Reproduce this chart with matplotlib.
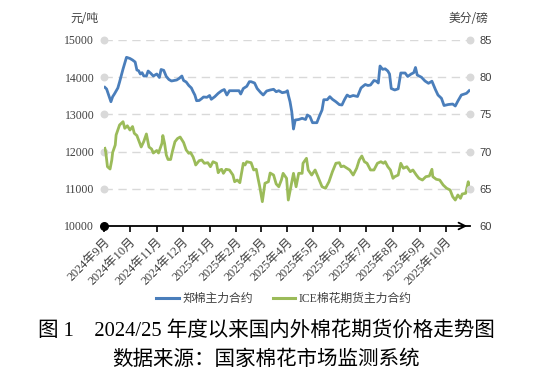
import matplotlib
matplotlib.use("Agg")
import matplotlib.pyplot as plt
import pandas as pd
from matplotlib.lines import Line2D

plt.rcParams['font.family'] = ['Liberation Serif', 'Noto Sans CJK SC', 'DejaVu Sans']

# ---------------- data ----------------
zheng_dates = [
    "2024-09-02", "2024-09-04", "2024-09-09", "2024-09-11", "2024-09-13", "2024-09-17", "2024-09-19",
    "2024-09-23", "2024-09-25", "2024-09-27", "2024-10-01", "2024-10-04", "2024-10-07", "2024-10-09",
    "2024-10-11", "2024-10-13", "2024-10-15", "2024-10-17", "2024-10-20", "2024-10-22", "2024-10-25",
    "2024-10-28", "2024-11-01", "2024-11-04", "2024-11-06", "2024-11-09", "2024-11-12", "2024-11-15",
    "2024-11-18", "2024-11-21", "2024-11-24", "2024-11-27", "2024-11-30", "2024-12-02", "2024-12-05",
    "2024-12-08", "2024-12-11", "2024-12-13", "2024-12-15", "2024-12-17", "2024-12-20", "2024-12-23",
    "2024-12-25", "2024-12-29", "2025-01-01", "2025-01-03", "2025-01-07", "2025-01-11", "2025-01-15",
    "2025-01-18", "2025-01-21", "2025-01-24", "2025-01-27", "2025-01-30", "2025-02-04", "2025-02-06",
    "2025-02-09", "2025-02-13", "2025-02-16", "2025-02-18", "2025-02-22", "2025-02-25", "2025-03-01",
    "2025-03-04", "2025-03-08", "2025-03-12", "2025-03-16", "2025-03-19", "2025-03-22", "2025-03-26",
    "2025-03-30", "2025-04-01", "2025-04-02", "2025-04-04", "2025-04-06", "2025-04-08", "2025-04-10",
    "2025-04-14", "2025-04-18", "2025-04-22", "2025-04-24", "2025-04-27", "2025-04-30", "2025-05-05",
    "2025-05-08", "2025-05-11", "2025-05-13", "2025-05-17", "2025-05-20", "2025-05-23", "2025-05-27",
    "2025-05-31", "2025-06-03", "2025-06-06", "2025-06-09", "2025-06-12", "2025-06-16", "2025-06-21",
    "2025-06-25", "2025-06-28", "2025-06-30", "2025-07-03", "2025-07-06", "2025-07-10", "2025-07-13",
    "2025-07-15", "2025-07-17", "2025-07-20", "2025-07-23", "2025-07-26", "2025-07-28", "2025-07-30",
    "2025-08-03", "2025-08-07", "2025-08-10", "2025-08-15", "2025-08-18", "2025-08-22", "2025-08-25",
    "2025-08-27", "2025-08-29", "2025-09-03", "2025-09-07", "2025-09-11", "2025-09-15", "2025-09-19",
    "2025-09-22", "2025-09-26", "2025-09-29", "2025-10-04", "2025-10-09", "2025-10-12", "2025-10-15",
    "2025-10-19", "2025-10-25", "2025-10-28",
]
zheng_values = [
    13728, 13683, 13341, 13476, 13548, 13710, 13871,
    14220, 14373, 14535, 14503, 14462, 14408, 14193,
    14175, 14086, 14121, 14032, 14032, 14166, 14105,
    14032, 14086, 13992, 14207, 14185, 14019, 13938,
    13898, 13911, 13925, 13970, 14032, 13911, 13871,
    13777, 13710, 13610, 13521, 13368, 13374, 13427,
    13468, 13460, 13508, 13406, 13476, 13567, 13637,
    13669, 13521, 13637, 13637, 13637, 13637, 13548,
    13696, 13755, 13879, 13879, 13844, 13696, 13589,
    13521, 13629, 13656, 13675, 13610, 13637, 13583,
    13602, 13637, 13521, 13341, 13072, 12607, 12849,
    12863, 12895, 12863, 12984, 12943, 12777, 12777,
    12957, 13118, 13395, 13395, 13476, 13406, 13341,
    13263, 13253, 13400, 13521, 13476, 13508, 13481,
    13710, 13769, 13804, 13777, 13790, 13911, 13892,
    13844, 14301, 14212, 14225, 14166, 14086, 13696,
    13656, 13688, 14113, 14113, 14019, 14086, 14121,
    14261, 14059, 13997, 13898, 13836, 13892, 13669,
    13521, 13433, 13239, 13266, 13279, 13226, 13360,
    13521, 13567, 13637,
]

ice_dates = [
    "2024-09-02", "2024-09-03", "2024-09-05", "2024-09-08", "2024-09-10", "2024-09-11", "2024-09-14",
    "2024-09-15", "2024-09-17", "2024-09-19", "2024-09-23", "2024-09-25", "2024-09-28", "2024-10-01",
    "2024-10-04", "2024-10-06", "2024-10-09", "2024-10-11", "2024-10-14", "2024-10-17", "2024-10-20",
    "2024-10-23", "2024-10-26", "2024-10-28", "2024-11-01", "2024-11-03", "2024-11-07", "2024-11-08",
    "2024-11-10", "2024-11-12", "2024-11-14", "2024-11-17", "2024-11-19", "2024-11-22", "2024-11-25",
    "2024-11-28", "2024-12-02", "2024-12-05", "2024-12-08", "2024-12-10", "2024-12-13", "2024-12-15",
    "2024-12-16", "2024-12-20", "2024-12-23", "2024-12-26", "2024-12-30", "2025-01-02", "2025-01-05",
    "2025-01-09", "2025-01-11", "2025-01-13", "2025-01-15", "2025-01-17", "2025-01-20", "2025-01-24",
    "2025-01-28", "2025-01-30", "2025-02-02", "2025-02-05", "2025-02-09", "2025-02-11", "2025-02-13",
    "2025-02-18", "2025-02-21", "2025-02-24", "2025-02-26", "2025-02-28", "2025-03-03", "2025-03-06",
    "2025-03-10", "2025-03-12", "2025-03-16", "2025-03-19", "2025-03-22", "2025-03-25", "2025-03-27",
    "2025-03-31", "2025-04-02", "2025-04-05", "2025-04-08", "2025-04-11", "2025-04-14", "2025-04-18",
    "2025-04-19", "2025-04-23", "2025-04-25", "2025-04-29", "2025-05-03", "2025-05-07", "2025-05-11",
    "2025-05-15", "2025-05-19", "2025-05-23", "2025-05-27", "2025-05-31", "2025-06-02", "2025-06-05",
    "2025-06-09", "2025-06-12", "2025-06-16", "2025-06-20", "2025-06-23", "2025-06-26", "2025-06-29",
    "2025-07-02", "2025-07-06", "2025-07-10", "2025-07-14", "2025-07-18", "2025-07-21", "2025-07-23",
    "2025-07-26", "2025-07-29", "2025-08-01", "2025-08-03", "2025-08-07", "2025-08-10", "2025-08-13",
    "2025-08-17", "2025-08-21", "2025-08-24", "2025-08-28", "2025-08-31", "2025-09-04", "2025-09-08",
    "2025-09-12", "2025-09-15", "2025-09-16", "2025-09-20", "2025-09-24", "2025-09-28", "2025-10-02",
    "2025-10-06", "2025-10-09", "2025-10-12", "2025-10-15", "2025-10-18", "2025-10-20", "2025-10-24",
    "2025-10-27", "2025-10-28",
]
ice_values = [
    70.44, 69.95, 67.97, 67.66, 68.87, 69.88, 70.89,
    72.23, 72.90, 73.58, 74.02, 73.13, 73.47, 72.90,
    73.37, 72.46, 72.16, 71.56, 70.62, 71.36, 72.37,
    70.62, 70.35, 69.81, 70.15, 69.81, 71.12, 72.16,
    71.12, 69.54, 68.94, 68.94, 69.99, 71.33, 71.76,
    71.96, 71.22, 70.22, 69.77, 69.88, 69.27, 68.60,
    68.20, 68.78, 68.87, 68.43, 68.51, 67.97, 68.64,
    68.43, 67.16, 67.53, 67.62, 67.08, 67.62, 67.53,
    66.85, 65.95, 66.18, 65.82, 68.43, 68.20, 68.64,
    68.51, 67.53, 67.62, 66.41, 65.28, 63.27, 65.74,
    65.95, 67.12, 66.85, 65.65, 65.28, 66.18, 67.08,
    66.41, 63.49, 65.28, 67.08, 65.28, 67.08, 67.08,
    68.43, 69.10, 67.53, 66.85, 67.53, 66.41, 65.28,
    65.07, 65.95, 67.30, 68.43, 68.51, 67.97, 68.06,
    67.76, 67.53, 66.85, 67.76, 68.87, 69.41, 68.64,
    68.43, 67.53, 67.53, 68.43, 68.64, 68.43, 68.64,
    67.97, 67.53, 66.41, 66.63, 66.85, 68.43, 67.76,
    67.97, 67.30, 67.53, 66.85, 66.41, 66.18, 66.63,
    66.72, 67.62, 66.63, 66.28, 66.18, 65.51, 65.07,
    64.84, 63.94, 63.49, 64.17, 63.72, 64.30, 64.40,
    65.95, 65.07,
]

month_ticks = ["2024-09-01", "2024-10-01", "2024-11-01", "2024-12-01", "2025-01-01", "2025-02-01",
               "2025-03-01", "2025-04-01", "2025-05-01", "2025-06-01", "2025-07-01", "2025-08-01",
               "2025-09-01", "2025-10-01"]
month_labels = ["2024年9月", "2024年10月", "2024年11月", "2024年12月", "2025年1月", "2025年2月",
                "2025年3月", "2025年4月", "2025年5月", "2025年6月", "2025年7月", "2025年8月",
                "2025年9月", "2025年10月"]
left_ticks = [10000, 11000, 12000, 13000, 14000, 15000]
right_ticks = [60, 65, 70, 75, 80, 85]

series_names = ["郑棉主力合约", "ICE棉花期货主力合约"]
left_unit = "元/吨"
right_unit = "美分/磅"
caption1 = "图 1    2024/25 年度以来国内外棉花期货价格走势图"
caption2 = "数据来源：国家棉花市场监测系统"

# ---------------- drawing ----------------
BLUE = "#4A7EBB"
GREEN = "#9BBB59"
GRID = "#D9D9D9"
TXT = "#404040"

W, H = 549, 371
fig = plt.figure(figsize=(W / 100, H / 100), dpi=100)
x0, x1, ytop, ybot = 104, 470, 40, 226
ax = fig.add_axes([x0 / W, 1 - ybot / H, (x1 - x0) / W, (ybot - ytop) / H])
ax2 = ax.twinx()

zd = pd.to_datetime(zheng_dates)
idt = pd.to_datetime(ice_dates)
xmin = pd.Timestamp("2024-09-01")
xmax = pd.Timestamp("2025-10-29")

for t in left_ticks[1:]:
    ax.axhline(t, color=GRID, lw=1.0, ls=(0, (6, 4)), zorder=0)

ax2.plot(idt, ice_values, color=GREEN, lw=2.0, solid_joinstyle='round', zorder=3)
ax.plot(zd, zheng_values, color=BLUE, lw=2.0, solid_joinstyle='round', zorder=3)

ax.set_xlim(xmin, xmax)
ax2.set_xlim(xmin, xmax)
ax.set_ylim(10000, 15000)
ax2.set_ylim(60, 85)

for a in (ax, ax2):
    for s in ("left", "right", "top"):
        a.spines[s].set_visible(False)
ax2.spines["bottom"].set_visible(False)
ax.spines["bottom"].set_color("black")
ax.spines["bottom"].set_linewidth(1.3)

# y ticks with dot markers
ax.set_yticks(left_ticks)
ax.set_yticklabels([str(v) for v in left_ticks], fontsize=8.5, color=TXT, family=['Liberation Serif'])
ax.tick_params(axis='y', length=0, pad=7)
ax2.set_yticks(right_ticks)
ax2.set_yticklabels([str(v) for v in right_ticks], fontsize=8, color=TXT, family=['Liberation Sans'])
ax2.tick_params(axis='y', length=0, pad=7)

ax.scatter([xmin] * 5, left_ticks[1:], s=22, color=GRID, clip_on=False, zorder=4)
ax.scatter([xmin], [left_ticks[0]], s=30, color="black", clip_on=False, zorder=5)
ax2.scatter([xmax] * 5, right_ticks[1:], s=22, color=GRID, clip_on=False, zorder=4)

# arrow at the right end of x axis
ax.annotate("", xy=(1.0, 0), xytext=(0.97, 0), xycoords="axes fraction",
            arrowprops=dict(arrowstyle="->", lw=1.3, color="black", mutation_scale=12),
            annotation_clip=False)

# x ticks
mt = pd.to_datetime(month_ticks)
ax.set_xticks(mt)
ax.set_xticklabels(month_labels, rotation=45, ha="right", rotation_mode="anchor",
                   fontsize=8.8, color=TXT, family=['Liberation Serif', 'Noto Sans CJK SC'])
ax.tick_params(axis='x', direction='out', length=4, width=1.2, color="black", pad=3)

# units
fig.text(84 / W, 1 - 18 / H, left_unit, fontsize=8.5, color=TXT, ha="center", va="center",
         family=['Noto Sans CJK SC'])
fig.text(468 / W, 1 - 18 / H, right_unit, fontsize=8.5, color=TXT, ha="center", va="center",
         family=['Noto Sans CJK SC'])

# legend
handles = [Line2D([0], [0], color=BLUE, lw=2.2), Line2D([0], [0], color=GREEN, lw=2.2)]
leg = fig.legend(handles, series_names, loc="center", bbox_to_anchor=(284 / W, 1 - 299 / H),
                 ncol=2, frameon=False, handlelength=1.9, handletextpad=0.3, columnspacing=1.7,
                 prop={'family': ['Liberation Serif', 'Noto Sans CJK SC'], 'size': 8.5})
for t in leg.get_texts():
    t.set_color(TXT)

# captions
fig.text(266 / W, 1 - 331 / H, caption1, fontsize=14.8, color="black", ha="center", va="center",
         family=['Liberation Serif', 'Noto Sans CJK SC'])
fig.text(266 / W, 1 - 359 / H, caption2, fontsize=14.8, color="black", ha="center", va="center",
         family=['Noto Sans CJK SC'])

fig.savefig("out.png", dpi=100)
